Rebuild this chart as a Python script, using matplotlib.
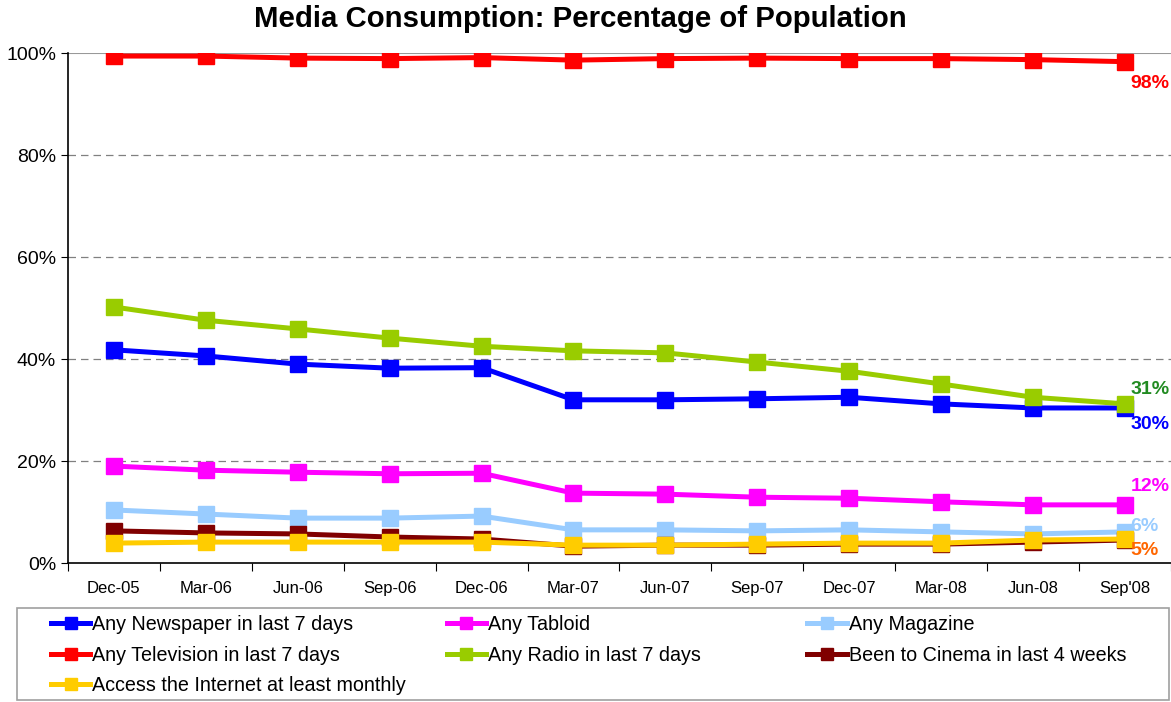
import matplotlib
matplotlib.use("Agg")
import matplotlib.pyplot as plt
from matplotlib.lines import Line2D
from matplotlib.patches import Rectangle

plt.rcParams["font.family"] = ["Liberation Sans", "DejaVu Sans"]

periods = ["Dec-05", "Mar-06", "Jun-06", "Sep-06", "Dec-06", "Mar-07",
           "Jun-07", "Sep-07", "Dec-07", "Mar-08", "Jun-08", "Sep'08"]

newspaper = [41.8, 40.6, 39.0, 38.2, 38.3, 32.0, 32.0, 32.2, 32.5, 31.2, 30.4, 30.4]
tabloid = [19.0, 18.2, 17.8, 17.5, 17.6, 13.7, 13.5, 12.9, 12.7, 12.0, 11.4, 11.4]
magazine = [10.4, 9.6, 8.8, 8.8, 9.2, 6.5, 6.5, 6.3, 6.5, 6.1, 5.7, 6.1]
television = [99.4, 99.4, 99.0, 98.9, 99.1, 98.6, 98.9, 99.0, 98.9, 98.9, 98.7, 98.3]
radio = [50.2, 47.6, 45.9, 44.1, 42.5, 41.6, 41.2, 39.4, 37.6, 35.1, 32.5, 31.2]
cinema = [6.3, 5.9, 5.7, 5.1, 4.7, 3.3, 3.5, 3.5, 3.7, 3.7, 4.1, 4.5]
internet = [3.9, 4.1, 4.1, 4.1, 4.1, 3.5, 3.5, 3.7, 3.9, 3.9, 4.5, 4.7]

series = [
    ("Any Newspaper in last 7 days", newspaper, "#0000FF"),
    ("Any Tabloid", tabloid, "#FF00FF"),
    ("Any Magazine", magazine, "#99CCFF"),
    ("Any Television in last 7 days", television, "#FF0000"),
    ("Any Radio in last 7 days", radio, "#99CC00"),
    ("Been to Cinema in last 4 weeks", cinema, "#800000"),
    ("Access the Internet at least monthly", internet, "#FFCC00"),
]

# end labels: (text, series values, colour, vertical offset in points)
end_labels = [
    ("98%", television, "#FF0000", -16),
    ("31%", radio, "#228B22", 10),
    ("30%", newspaper, "#0000FF", -12),
    ("12%", tabloid, "#FF00FF", 13),
    ("6%", magazine, "#99CCFF", 4),
    ("5%", internet, "#FF6600", -8),
]

fig = plt.figure(figsize=(11.71, 7.02), dpi=100)
ax = fig.add_axes([0.058, 0.198, 0.942, 0.7265])

x = list(range(len(periods)))
for name, vals, col in series:
    ax.plot(x, vals, color=col, lw=3.6, marker="s", markersize=12,
            markeredgecolor=col, label=name, zorder=3)

for txt, vals, col, dy in end_labels:
    ax.annotate(txt, (x[-1], vals[-1]), xytext=(4, dy), textcoords="offset points",
                color=col, fontsize=14, fontweight="bold", ha="left", va="center",
                annotation_clip=False, zorder=5)

ax.set_xlim(-0.5, len(periods) - 0.5)
ax.set_ylim(0, 100)
ax.set_yticks([0, 20, 40, 60, 80, 100])
ax.set_yticklabels([f"{v}%" for v in [0, 20, 40, 60, 80, 100]], fontsize=14)
for v in [20, 40, 60, 80]:
    ax.axhline(v, color="#808080", lw=0.9, ls=(0, (6, 4)), zorder=1)
ax.axhline(100, color="#999999", lw=1.5, zorder=1)

ax.set_xticks([i - 0.5 for i in range(len(periods) + 1)])
ax.set_xticklabels([])
ax.set_xticks(x, minor=True)
ax.set_xticklabels(periods, minor=True, fontsize=12)
ax.tick_params(axis="x", which="major", length=6, direction="out", color="black")
ax.tick_params(axis="x", which="minor", length=0, pad=13)
ax.tick_params(axis="y", length=5, direction="out")

for s in ["top", "right"]:
    ax.spines[s].set_visible(False)
ax.spines["left"].set_linewidth(1.2)
ax.spines["bottom"].set_linewidth(1.2)

fig.suptitle("Media Consumption: Percentage of Population", fontsize=21.2,
             fontweight="bold", y=0.993, va="top", x=0.496)

# legend box
fig.patches.append(Rectangle((0.0145, 0.003), 0.984, 0.131, transform=fig.transFigure,
                             fill=False, edgecolor="#A0A0A0", lw=1.2))
handles = {}
for name, vals, col in series:
    handles[name] = Line2D([], [], color=col, lw=3.6, marker="s", markersize=8,
                           markeredgecolor=col)
columns = [
    (0.040, ["Any Newspaper in last 7 days", "Any Television in last 7 days",
             "Access the Internet at least monthly"]),
    (0.378, ["Any Tabloid", "Any Radio in last 7 days"]),
    (0.686, ["Any Magazine", "Been to Cinema in last 4 weeks"]),
]
for xpos, names in columns:
    leg = fig.legend([handles[n] for n in names], names, loc="upper left",
                     bbox_to_anchor=(xpos, 0.129), frameon=False, fontsize=14.2,
                     handlelength=2.0, handletextpad=0.1, labelspacing=0.58,
                     borderpad=0.2, borderaxespad=0)

fig.savefig("out.png", dpi=100)
